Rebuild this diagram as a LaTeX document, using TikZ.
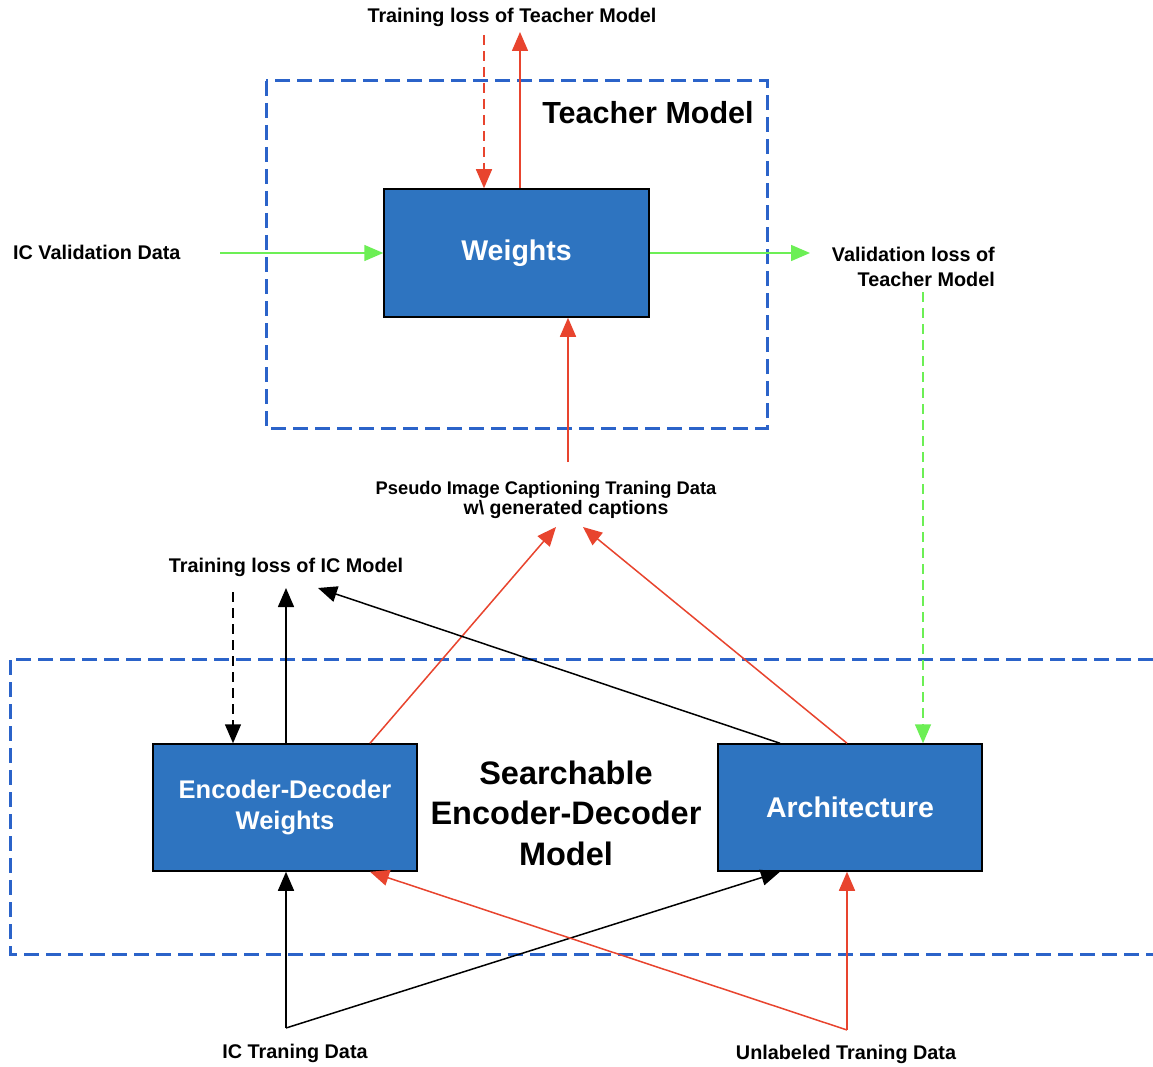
\documentclass[tikz,border=0pt]{standalone}
\usepackage{fontspec}
\setmainfont{Liberation Sans}
\usetikzlibrary{arrows.meta}
\definecolor{dashblue}{HTML}{2B63C9}
\definecolor{boxblue}{HTML}{2E74C0}
\definecolor{arrred}{HTML}{E8442E}
\definecolor{arrgreen}{HTML}{6CEF55}
\begin{document}
\begin{tikzpicture}[x=1pt,y=-1pt,
  lbl/.style={font=\bfseries\fontsize{19.8}{25}\selectfont, inner sep=0pt},
  blk/.style={draw=black, line width=1.5pt, fill=boxblue, text=white, minimum width=265pt, minimum height=128pt, inner sep=0pt, align=center},
  grp/.style={draw=dashblue, line width=3pt, dash pattern=on 15pt off 7pt},
  tip/.style={-{Triangle[length=19pt,width=16pt]}},
  redline/.style={draw=arrred, line width=1.5pt},
  greenline/.style={draw=arrgreen, line width=1.5pt},
  blackline/.style={draw=black, line width=1.5pt},
  shortdash/.style={dash pattern=on 10pt off 6pt},
]
\useasboundingbox (0,0) rectangle (1153,1067);
\fill[white] (0,0) rectangle (1153,1067);

% group frames
\draw[grp] (266,81) rectangle (767,428);
\draw[grp] (1153,659) -- (10,659) -- (10,954) -- (1153,954);

% main boxes
\node[blk, font=\bfseries\fontsize{28.5}{32}\selectfont] (W) at (516.5,253) {Weights};
\node[blk, minimum width=264pt, minimum height=127pt, font=\bfseries\fontsize{25.5}{31}\selectfont] (E) at (285,807.5) {Encoder-Decoder\\Weights};
\node[blk, minimum width=264pt, minimum height=127pt, font=\bfseries\fontsize{28.5}{32}\selectfont] (A) at (850,807.5) {Architecture};

% titles
\node[inner sep=0pt, font=\bfseries\fontsize{30.5}{34}\selectfont] (TM) at (648,113) {Teacher Model};
\node[inner sep=0pt, align=center, font=\bfseries\fontsize{32.5}{40.5}\selectfont] (SM) at (566,813) {Searchable\\Encoder-Decoder\\Model};

% labels
\node[lbl] (TLT) at (512,17) {Training loss of Teacher Model};
\node[lbl, anchor=west] (ICV) at (13,252) {IC Validation Data};
\node[lbl, align=right, anchor=east] (VLT) at (995,266.5) {Validation loss of\\Teacher Model};
\node[inner sep=0pt, align=center, font=\bfseries\fontsize{18.3}{20}\selectfont] (PS) at (546,500) {Pseudo Image Captioning Traning Data\\\hspace*{40pt}{\fontsize{19.5}{20}\selectfont w\textbackslash{} generated captions}};
\node[lbl] (TLIC) at (286,567) {Training loss of IC Model};
\node[lbl] (ICT) at (295,1053) {IC Traning Data};
\node[lbl] (UTD) at (846,1054) {Unlabeled Traning Data};

% free ends
\coordinate (tdash) at (484,35);
\coordinate (tup) at (520,32);
\coordinate (gvin) at (220,253);
\coordinate (gvout) at (810,253);
\coordinate (gvdown) at (923,292);
\coordinate (psbot) at (568,462);
\coordinate (psl) at (556,527);
\coordinate (psr) at (583,527);
\coordinate (icdash) at (233,592);
\coordinate (icup) at (286,588);
\coordinate (icarch) at (318,588);
\coordinate (ictj) at (286,1028);
\coordinate (utdj) at (847,1030);
\coordinate (eNr) at (370,744);
\coordinate (aNl) at (780,744);
\coordinate (aNr) at (847,744);

% teacher connectors
\draw[redline, shortdash, tip] (tdash) -- (tdash |- W.north);
\draw[redline, tip] (tup |- W.north) -- (tup);
\draw[greenline, tip] (gvin) -- (W.west);
\draw[greenline, tip] (W.east) -- (gvout);
\draw[greenline, shortdash, tip] (gvdown) -- (gvdown |- A.north);
\draw[redline, tip] (psbot) -- (psbot |- W.south);

% pseudo data
\draw[redline, tip] (eNr |- E.north) -- (psl);
\draw[redline, tip] (aNr |- A.north) -- (psr);

% IC model training loss
\draw[blackline, dash pattern=on 10pt off 6pt, tip] (icdash) -- (icdash |- E.north);
\draw[blackline, tip] (icup |- E.north) -- (icup);
\draw[blackline, tip] (aNl |- A.north) -- (icarch);

% training data
\draw[blackline, tip] (ictj) -- (ictj |- E.south);
\draw[blackline, tip] (ictj) -- (aNl |- A.south);
\draw[redline, tip] (utdj) -- (utdj |- A.south);
\draw[redline, tip] (utdj) -- (eNr |- E.south);
\end{tikzpicture}
\end{document}
